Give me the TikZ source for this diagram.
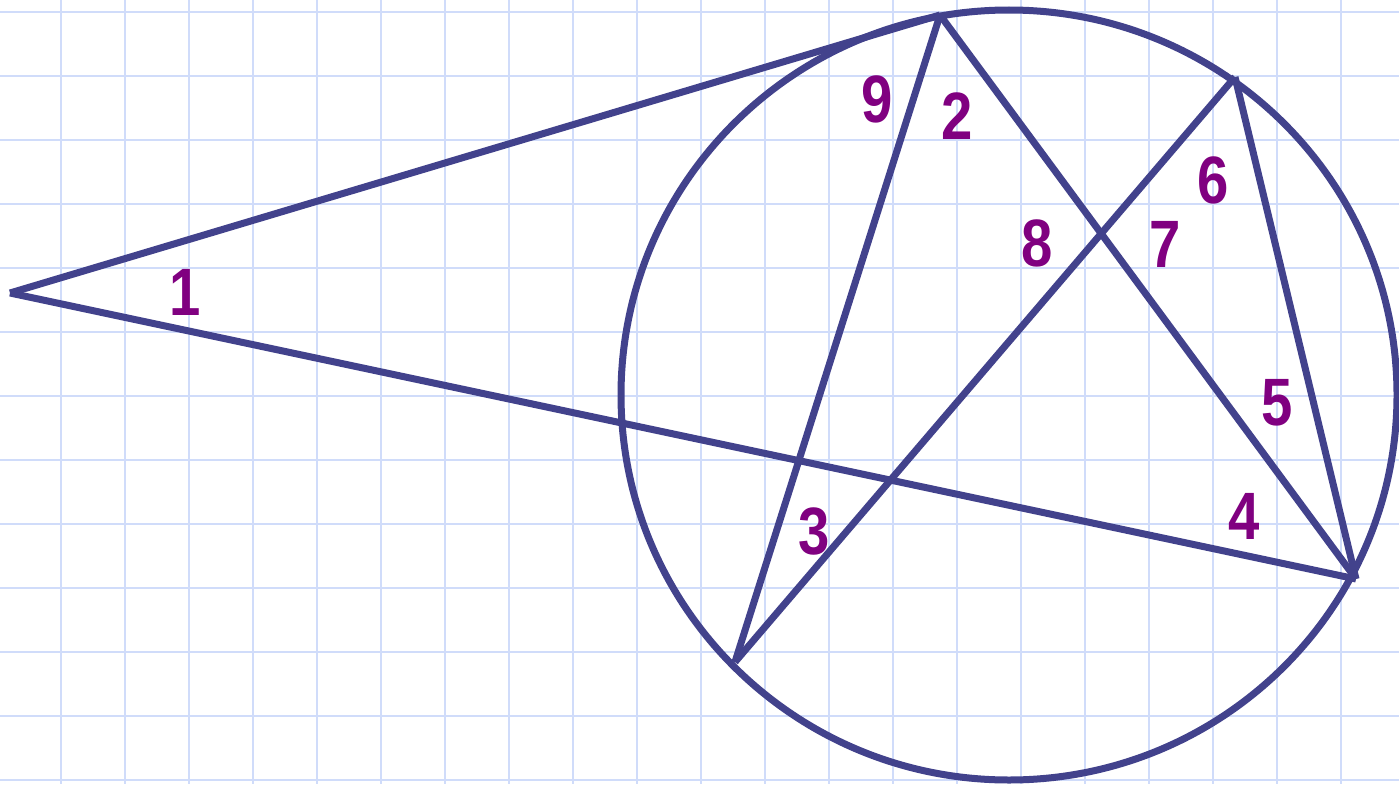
\documentclass[tikz,border=0pt]{standalone}
\usepackage{fontspec}
\newfontfamily\digitfont[FakeStretch=0.84]{Liberation Sans}
\usepackage{xcolor}
\usetikzlibrary{calc}
\definecolor{gridblue}{RGB}{208,220,250}
\definecolor{figblue}{RGB}{66,66,140}
\definecolor{lblpurple}{RGB}{128,0,128}

\begin{document}
\begin{tikzpicture}[x=1pt,y=-1pt,
    fig/.style={draw=figblue,line width=7pt},
    lbl/.style={text=lblpurple,inner sep=0pt,font=\digitfont\bfseries\fontsize{67}{67}\selectfont}]
    \useasboundingbox (0,0) rectangle (1399,784);
    \fill[white] (0,0) rectangle (1399,784);
    % squared paper
    \foreach \x in {61,125,...,1341}{
        \draw[gridblue,line width=1.8pt] (\x,0) -- (\x,784);
    }
    \foreach \y in {12,76,...,780}{
        \draw[gridblue,line width=1.8pt] (0,\y) -- (1399,\y);
    }
    % points
    \coordinate (P) at (10,293);
    \coordinate (A) at (940,15);
    \coordinate (B) at (1235,77);
    \coordinate (C) at (1356,579);
    \coordinate (D) at (735,662);
    \coordinate (O) at (1009,395);
    % circle and chords
    \draw[fig] (O) ellipse [x radius=388,y radius=385];
    \draw[fig] (P) -- (A);
    \draw[fig] (P) -- (C);
    \draw[fig] (A) -- (D);
    \draw[fig] (A) -- (C);
    \draw[fig] (B) -- (D);
    \draw[fig] (B) -- (C);
    % angle numbers
    \node[lbl] (n1) at (185,292) {1};
    \node[lbl] (n2) at (957,116) {2};
    \node[lbl] (n3) at (814,531) {3};
    \node[lbl] (n4) at (1244,516) {4};
    \node[lbl] (n5) at (1277,403) {5};
    \node[lbl] (n6) at (1213,180) {6};
    \node[lbl] (n7) at (1165,244) {7};
    \node[lbl] (n8) at (1037,243) {8};
    \node[lbl] (n9) at (877,99) {9};
\end{tikzpicture}
\end{document}
